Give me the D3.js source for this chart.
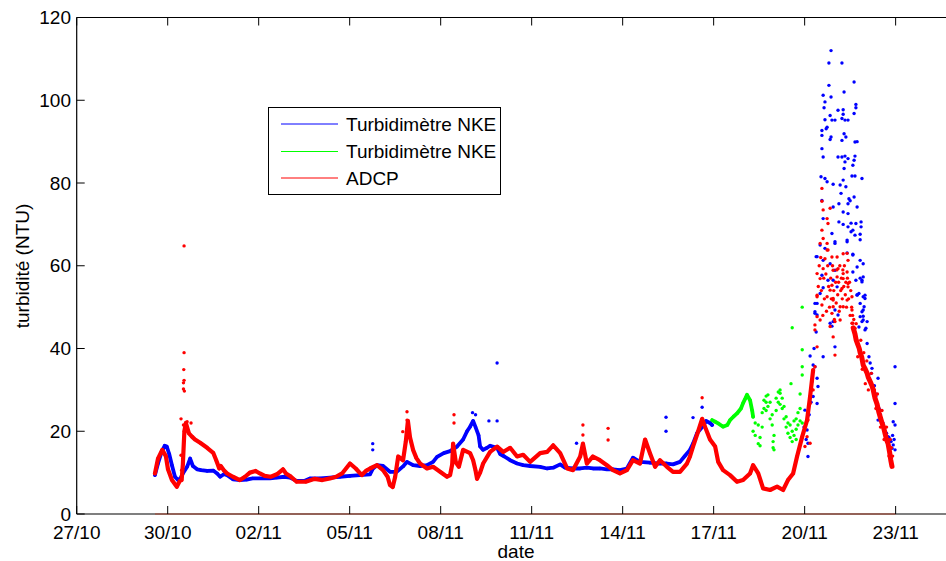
<!DOCTYPE html>
<html><head><meta charset="utf-8">
<script src="https://cdn.jsdelivr.net/npm/d3@7"></script>
<style>body{margin:0;background:#fff;} svg{display:block;font-family:"Liberation Sans",Arial,Helvetica,sans-serif;}</style>
</head><body><svg id="c" width="946" height="561"></svg>
<script>
// time = days since 27/10 00:00, value = turbidity (NTU)
const xTickDays = [0,3,6,9,12,15,18,21,24,27];
const xTickLabels = ["27/10","30/10","02/11","05/11","08/11","11/11","14/11","17/11","20/11","23/11"];
const yTicks = [0,20,40,60,80,100,120];
const seriesNames = ["Turbidimètre NKE","Turbidimètre NKE","ADCP"];
const seriesColors = ["#0000ff","#00ff00","#ff0000"];

const blueBand = [[2.58,9.4],[2.68,12.2],[2.80,15.0],[2.90,16.5],[2.97,16.3],[3.05,14.5],[3.14,11.8],[3.24,9.0],[3.34,8.2],[3.42,8.6],[3.50,9.8],[3.64,11.4],[3.74,13.4],[3.83,11.6],[3.97,10.8],[4.10,10.6],[4.30,10.4],[4.50,10.5],[4.63,9.8],[4.73,9.0],[4.85,9.6],[4.96,9.4],[5.15,8.4],[5.38,8.2],[5.60,8.3],[5.80,8.6],[6.04,8.6],[6.37,8.6],[6.60,8.8],[6.85,9.0],[7.03,8.8],[7.25,8.0],[7.50,8.0],[7.69,8.6],[8.02,8.6],[8.35,8.8],[8.68,9.0],[9.01,9.2],[9.34,9.4],[9.67,9.6],[9.77,11.0],[9.90,11.8],[10.10,11.6],[10.33,10.2],[10.55,10.2],[10.76,11.5],[10.89,12.6],[11.09,11.8],[11.32,11.6],[11.55,11.8],[11.75,12.6],[11.88,13.8],[12.10,14.7],[12.31,15.2],[12.54,16.3],[12.74,18.0],[12.87,20.0],[12.97,21.1],[13.07,22.5],[13.15,21.0],[13.25,19.0],[13.30,16.3],[13.40,15.5],[13.53,16.0],[13.63,16.5],[13.86,16.0],[13.96,14.5],[14.10,13.9],[14.29,13.0],[14.52,12.2],[14.72,11.8],[14.95,11.6],[15.28,11.4],[15.51,11.0],[15.71,11.2],[15.94,12.0],[16.10,11.2],[16.36,11.0],[16.60,11.0],[16.82,11.2],[17.02,11.0],[17.25,11.0],[17.48,10.8],[17.68,10.8],[17.91,10.6],[18.14,11.0],[18.34,13.6],[18.57,12.6],[18.90,12.4],[19.23,12.2],[19.46,12.2],[19.66,12.0],[19.89,12.6],[20.05,14.0],[20.22,15.5],[20.32,17.0],[20.45,19.5],[20.62,21.0],[20.75,22.5],[20.88,22.0],[20.95,21.5]];

const blueScatter = [[9.76,15.5],[9.76,17],[13.05,24.5],[13.15,24],[13.86,36.5],[13.86,22.5],[13.59,22.5],[16.48,17.1],[19.43,23.4],[19.43,20],[20.62,25.8],[20.32,23.3],
[24.87,112],[24.80,109],[25.23,109],[24.80,103.6],[25.63,104.4],[25.30,102],[24.61,101.2],[24.87,100.8],[24.67,99.6],[25.69,99],[25.69,98.2],[24.64,98.2],[25.10,97.6],[25.27,97.7],[25.27,96.6],[25.63,96.8],[24.67,95.3],[24.84,96.3],[24.90,95.2],[25.00,95.2],[25.23,95.6],[25.33,95.2],[25.43,95.2],[24.57,92.7],[24.71,93.1],[24.74,93.5],[25.30,91.9],[25.23,90.3],[25.36,91.1],[25.66,89.9],[25.73,90.0],[24.57,91.5],[24.84,90.5],[24.87,91.1],[24.57,88.3],[24.61,86.3],[25.10,86.3],[25.23,86.3],[25.33,86.5],[25.43,85.9],[25.66,86.5],[25.33,85.1],[25.63,85.5],[25.59,84.3],[25.30,83.5],[24.54,81.5],[24.67,81.1],[24.74,80.3],[25.56,81.7],[25.66,81.7],[25.89,81.1],[24.94,79.7],[25.17,79.5],[25.27,80.7],[25.36,79.1],[25.20,77.5],[25.46,76.2],[25.63,76.6],[24.57,75.8],[25.13,75.0],[25.43,75.0],[25.50,75.7],[25.73,74.2],[24.94,74.2],[25.27,73.0],[25.43,72.6],[24.61,71.4],[25.13,70.6],[25.27,70.0],[25.53,70.3],[25.69,70.2],[25.43,69.4],[25.59,68.6],[25.86,70.6],[25.86,69.4],[24.90,67.8],[25.53,68.2],[25.66,67.4],[25.83,67.6],[25.83,66.3],[25.40,66.2],[25.00,65.4],[24.51,65.0],[24.67,64.2],[25.40,63.1],[25.59,62.8],[24.38,62.2],[24.84,60.5],[24.61,61.3],[25.83,61.3],[25.73,59.7],[25.93,57.3],[25.59,58.5],[25.69,56.5],[25.89,56.5],[24.94,56.5],[24.61,54.7],[25.07,54.9],[25.79,53.3],[25.73,52.9],[25.99,52.9],[25.99,52.1],[24.34,50.9],[25.83,50.9],[25.96,50.1],[24.34,48.9],[25.00,49.3],[25.89,48.9],[24.41,48.1],[25.10,48.1],[25.93,47.8],[25.83,47.7],[25.89,46.5],[26.06,46.5],[24.90,45.4],[25.79,45.2],[26.02,44.9],
[25.00,65.8],[25.40,65.8],[24.41,62.2],[25.59,62.6],[25.93,60.5],[24.57,57.7],[25.00,58.9],[24.77,56.5],[24.51,53.3],[25.83,57.0],[25.89,56.1],[25.73,53.0],[25.93,52.5],[24.41,50.9],[24.34,48.5],[25.93,49.3],[25.93,46.9],[25.99,44.5],[24.94,46.5],[25.00,40.4],[26.06,41.2],[24.84,46.1],[24.18,38.2],[24.61,38.0],[24.34,35.6],[26.22,35.2],[26.42,32.8],[24.41,32.8],[24.44,30.8],[24.24,30.0],[24.28,28.4],[24.41,26.7],[26.26,30.8],[26.32,29.2],[26.39,26.0],[26.49,25.1],[24.01,25.1],[24.08,22.7],[24.08,20.3],[24.11,17.1],[24.11,13.9],[26.42,22.7],[26.55,21.9],[26.65,19.9],[26.75,18.7],[26.82,17.9],[26.92,16.7],[26.98,15.5],[26.88,15.9],[26.98,35.6],[26.98,26.7],[26.92,22.3],[26.98,21.5],[26.72,17.9],
[23.98,21],[24.05,18],[24.15,24],[24.21,27],[24.24,32],[24.28,36],[24.31,40],[24.38,44],
[26.12,38],[26.16,36.5],[26.20,34],[26.30,31],[26.35,28.5],[26.45,25.5],[26.50,24],[26.58,22],[26.62,20.5],[26.70,19.5],[26.78,18.5],[26.85,17.5],[26.90,19],[26.95,18]];

const greenBand = [[20.95,22.7],[21.05,22.3],[21.15,21.9],[21.31,21.1],[21.45,21.5],[21.54,22.7],[21.65,23.5],[21.77,24.3],[21.90,25.5],[21.97,26.8],[22.05,28.0],[22.10,28.8],[22.20,27.5],[22.27,25.0],[22.30,23.5]];

const greenScatter = [[22.30,20],[22.37,19],[22.37,22],[22.47,17],[22.47,21.5],[22.53,18.5],[22.53,16.5],[22.60,21],[22.60,24.5],[22.66,25.5],[22.66,27.5],[22.73,27],[22.73,28.5],[22.73,25],[22.79,28.8],[22.79,26],[22.86,27],[22.86,23],[22.93,21.5],[22.93,24],[22.96,17.5],[22.96,16],[22.99,19],[22.99,15.5],[23.06,25],[23.06,28],[23.13,29.5],[23.13,27],[23.19,29.2],[23.19,26.5],[23.19,30],[23.26,28],[23.26,25.5],[23.32,26],[23.32,23],[23.39,23.5],[23.39,21],[23.45,22],[23.45,19.5],[23.52,21.5],[23.52,18.5],[23.59,20],[23.59,17.5],[23.65,19],[23.65,22.5],[23.72,20.5],[23.72,18],[23.72,23],[23.78,21.5],[23.78,24.5],[23.85,22.5],[23.85,29],[23.85,25.5],[23.92,22],
[23.59,45],[23.92,50],[23.92,39.7],[23.92,35.6],[23.92,33.6],[23.55,31.5]];

const redBand = [[2.58,9.8],[2.68,13.4],[2.82,15.5],[2.94,14.0],[3.01,10.8],[3.14,8.2],[3.30,6.6],[3.40,8.0],[3.46,8.2],[3.50,12.0],[3.55,20.0],[3.60,22.0],[3.70,19.5],[3.80,18.7],[3.90,18.0],[4.07,17.2],[4.30,16.0],[4.50,14.8],[4.60,13.0],[4.70,11.0],[4.75,11.6],[4.85,10.6],[4.96,9.8],[5.15,9.0],[5.38,8.2],[5.55,9.0],[5.71,10.0],[5.90,10.4],[6.04,9.8],[6.20,9.2],[6.40,9.0],[6.60,9.6],[6.80,10.8],[6.90,9.8],[7.03,9.2],[7.25,7.8],[7.55,7.8],[7.85,8.5],[8.10,8.2],[8.35,8.6],[8.55,9.0],[8.75,9.8],[9.01,12.2],[9.20,11.0],[9.40,9.4],[9.55,10.5],[9.67,11.0],[9.90,11.8],[10.10,10.6],[10.25,9.0],[10.33,7.0],[10.42,6.5],[10.50,9.0],[10.60,13.9],[10.76,13.0],[10.85,17.5],[10.92,22.5],[10.99,18.5],[11.09,15.5],[11.20,13.5],[11.32,12.2],[11.55,11.0],[11.75,11.4],[11.98,10.2],[12.21,9.0],[12.31,9.4],[12.38,12.0],[12.41,17.0],[12.50,12.5],[12.60,11.4],[12.74,15.5],[12.97,14.7],[13.07,13.0],[13.15,10.5],[13.20,8.5],[13.30,10.0],[13.40,12.2],[13.63,15.0],[13.86,16.3],[14.06,15.0],[14.29,16.0],[14.52,13.9],[14.72,14.3],[14.95,12.6],[15.28,14.7],[15.51,15.0],[15.71,16.6],[15.94,14.7],[16.17,11.0],[16.36,10.6],[16.60,13.9],[16.69,17.0],[16.82,12.2],[17.02,13.9],[17.25,13.0],[17.48,11.8],[17.68,10.6],[17.91,9.8],[18.14,10.6],[18.34,13.0],[18.57,12.2],[18.74,18.0],[18.90,14.7],[19.07,11.4],[19.23,13.0],[19.46,11.4],[19.66,10.2],[19.89,10.2],[20.12,12.2],[20.22,13.9],[20.32,16.3],[20.49,20.0],[20.62,23.0],[20.72,21.0],[20.88,18.0],[21.05,16.3],[21.15,12.6],[21.31,10.6],[21.54,9.4],[21.77,7.8],[21.97,8.2],[22.20,9.8],[22.30,11.8],[22.47,9.8],[22.63,6.2],[22.86,5.8],[23.09,6.6],[23.29,5.8],[23.45,8.2],[23.62,9.8],[23.75,13.9],[23.92,18.7],[24.08,22.7],[24.18,28.4],[24.28,34.8]];

const redTail = [[25.60,45],[25.66,43.5],[25.70,42],[25.75,41],[25.80,40],[25.83,39],[25.88,38],[25.93,36],[26.00,35],[26.06,34],[26.10,33],[26.16,32],[26.22,31],[26.26,30],[26.32,28],[26.39,26.5],[26.45,24.5],[26.49,23.5],[26.55,22],[26.60,21],[26.65,19.5],[26.70,18],[26.75,17],[26.80,15],[26.84,13],[26.88,11.5]];

const redScatter = [[3.54,64.8],[3.54,39],[3.53,34.9],[3.52,31.7],[3.54,32.3],[3.52,30.2],[3.55,29.7],[3.44,23],[3.52,21.5],[3.64,22.3],[3.77,22],[3.44,14.2],[3.46,10.6],[10.89,24.7],[10.89,22.7],[10.75,19.9],[12.44,24],[12.44,22],[16.69,21.5],[16.69,19.1],[17.52,20.7],[17.52,17.9],[20.62,28.1],
[24.57,78.7],[24.57,75.6],[24.61,73.5],[24.84,73.9],[24.74,71.4],[24.77,70.2],[24.57,68.6],[24.61,66.6],[24.74,65.4],[24.77,63.8],[24.67,61.7],[24.90,62.1],[25.27,62.9],[25.43,61.3],[24.61,59.3],[24.94,58.9],[25.10,59.3],[25.40,58.5],[24.51,56.9],[25.07,57.3],[25.27,56.9],[24.90,55.3],[25.23,54.5],[25.43,54.9],[24.41,52.9],[24.74,52.5],[24.94,51.7],[25.56,52.5],[24.57,50.5],[24.94,50.1],[25.27,50.1],[24.41,47.7],[24.90,48.5],[25.17,46.9],[25.56,46.1],[24.34,45.7],[24.84,45.3],[25.66,44.9],
[24.51,65.4],[24.74,63.8],[24.41,58.1],[24.84,54.1],[24.41,52.5],[24.94,52.1],[24.51,46.9],[25.00,46.5],[24.34,44.5],[24.41,40.4],[24.94,42.8],[25.00,38.4],[25.07,62.1],[25.27,58.1],[25.40,63.0],[25.43,55.7],[25.17,50.1],[25.40,51.7],[25.56,49.3],[25.59,46.1],[24.34,35.6],[24.28,30.0],[24.18,26.7],[24.11,22.7],[24.08,18.7],[24.18,17.1],[24.01,16.3],
[24.45,55],[24.48,60],[24.53,62],[24.55,54],[24.60,48],[24.63,57],[24.65,52],[24.70,58],[24.72,49],[24.76,60],[24.79,55],[24.82,50],[24.86,57],[24.88,52],[24.92,60],[24.96,54],[24.98,47],[25.02,56],[25.04,51],[25.06,59],[25.09,53],[25.12,56],[25.14,49],[25.16,60],[25.19,54],[25.21,57],[25.24,52],[25.26,59],[25.29,55],[25.31,60],[25.34,53],[25.36,56],[25.38,50],[25.41,57],[25.45,52],[25.48,56],[25.50,48],[25.52,54],[25.55,50],[25.58,48],[25.62,47],[25.64,44],
[25.70,46],[25.75,38],[25.85,42],[25.90,35],[25.95,39],[26.00,31.5],[26.05,37],[26.10,30],[26.20,34],[26.30,30],[26.35,25.5],[26.40,29],[26.50,21],[26.55,25],[26.62,18],[26.70,21],[26.78,14],[26.82,18],[26.86,16],[26.90,14]];

const svg = d3.select("#c");
const x = d3.scaleLinear().domain([0,29]).range([76.7,956.3]);
const y = d3.scaleLinear().domain([0,120]).range([514,17.5]);
const X0 = x(0), Y0 = y(0), Y1 = y(120);

// axes box (top, left, bottom)
const axisG = svg.append("g").attr("stroke","#000").attr("stroke-width",1.2).attr("fill","none");
axisG.append("line").attr("x1",X0).attr("x2",946).attr("y1",Y1).attr("y2",Y1);
axisG.append("line").attr("x1",X0).attr("x2",X0).attr("y1",Y1).attr("y2",Y0);
axisG.append("line").attr("x1",X0).attr("x2",946).attr("y1",Y0).attr("y2",Y0);

const line = d3.line().x(d=>x(d[0])).y(d=>y(d[1]));
function band(data,color,w){
  svg.append("path").datum(data).attr("d",line).attr("fill","none")
    .attr("stroke",color).attr("stroke-width",w).attr("stroke-linejoin","round").attr("stroke-linecap","round");
  dots(data,color);
}
function dots(data,color){
  svg.append("g").selectAll("circle").data(data).join("circle")
    .attr("cx",d=>x(d[0])).attr("cy",d=>y(d[1])).attr("r",1.7).attr("fill",color);
}
band(blueBand,seriesColors[0],3.8);
dots(blueScatter,seriesColors[0]);
band(greenBand,seriesColors[1],3.8);
dots(greenScatter,seriesColors[1]);
band(redBand,seriesColors[2],4.2);
band(redTail,seriesColors[2],5);
dots(redScatter,seriesColors[2]);

// zero line over the data extent
svg.append("line").attr("x1",x(2.58)).attr("x2",x(27.0)).attr("y1",Y0).attr("y2",Y0)
  .attr("stroke","#a84632").attr("stroke-width",1.2);

// ticks
const tg = svg.append("g").attr("stroke","#000").attr("stroke-width",1);
xTickDays.forEach(d=>{
  tg.append("line").attr("x1",x(d)).attr("x2",x(d)).attr("y1",Y0).attr("y2",Y0-8);
  tg.append("line").attr("x1",x(d)).attr("x2",x(d)).attr("y1",Y1).attr("y2",Y1+8);
});
yTicks.forEach(v=>{
  tg.append("line").attr("x1",X0).attr("x2",X0+8).attr("y1",y(v)).attr("y2",y(v));
});

// tick labels
const fs = 19;
svg.append("g").selectAll("text").data(xTickDays).join("text")
  .attr("x",d=>x(d)).attr("y",539).attr("text-anchor","middle").attr("font-size",fs)
  .text((d,i)=>xTickLabels[i]);
svg.append("g").selectAll("text").data(yTicks).join("text")
  .attr("x",71).attr("y",v=>y(v)).attr("dy","0.35em").attr("text-anchor","end").attr("font-size",fs)
  .text(v=>v);

// axis titles
svg.append("text").attr("x",516).attr("y",558).attr("text-anchor","middle").attr("font-size",fs).text("date");
svg.append("text").attr("transform","translate(29,266) rotate(-90)").attr("text-anchor","middle").attr("font-size",fs).text("turbidité (NTU)");

// legend
const lg = svg.append("g");
lg.append("rect").attr("x",268.5).attr("y",107.5).attr("width",232).attr("height",87).attr("fill","#fff").attr("stroke","#000").attr("stroke-width",1);
const ly = [124,151.5,178];
seriesNames.forEach((n,i)=>{
  lg.append("line").attr("x1",281).attr("x2",338).attr("y1",ly[i]).attr("y2",ly[i]).attr("stroke",seriesColors[i]).attr("stroke-width",1);
  lg.append("text").attr("x",346).attr("y",ly[i]+6.5).attr("font-size",fs).text(n);
});
</script></body></html>
